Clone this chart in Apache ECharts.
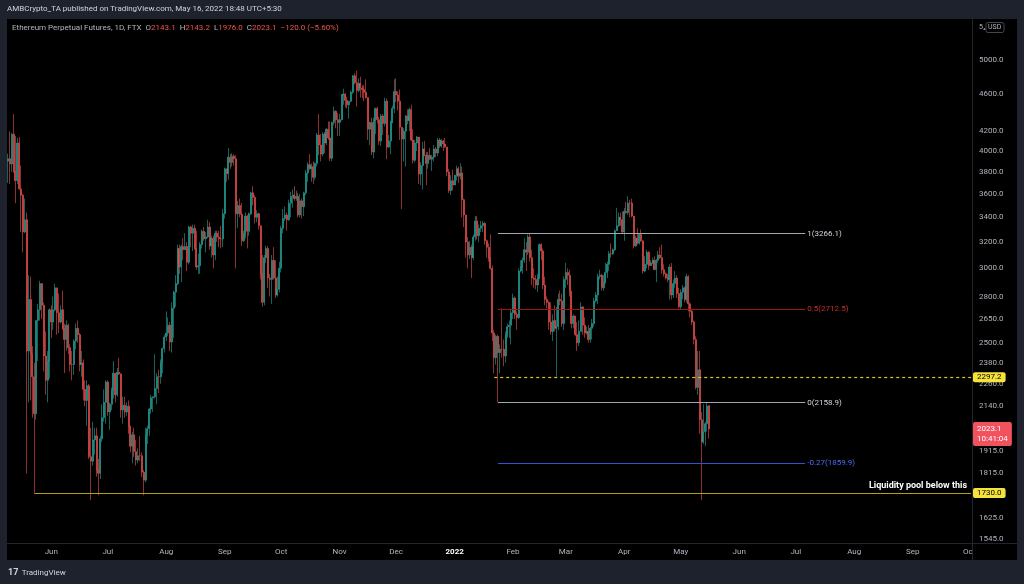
<!DOCTYPE html>
<html><head><meta charset="utf-8">
<script src="https://cdn.jsdelivr.net/npm/echarts@6/dist/echarts.min.js"></script>
<style>html,body{margin:0;padding:0;background:#1e222d;}#c{width:1024px;height:584px;}</style>
</head><body><div id="c"></div>
<script>
// ---- data: daily candles [open, high, low, close], first day 2021-05-09 ----
const firstDate = [2021, 4, 9];
const categoryCount = 512;
const may21 = [[3902,3975,3700,3926],[3926,4197,3690,3875],[3875,4180,3800,4168],[4168,4380,3790,3810],[3810,4150,3520,3720],[3720,4130,3690,4080],[4080,4140,3640,3645],[3645,3860,3280,3590],[3590,3600,3120,3280],[3280,3560,3270,3380],[3380,3440,1815,2450],[2450,2950,2160,2780],[2780,2940,2170,2430],[2430,2480,2080,2300],[2300,2380,1730,2100],[2100,2640,2070,2640],[2640,2750,2390,2710],[2710,2910,2640,2890],[2890,2890,2650,2740],[2740,2760,2330,2420],[2420,2570,2200,2280],[2280,2450,2160,2390],[2390,2720,2290,2710]];
const jun21 = [[2710,2740,2530,2630],[2630,2800,2580,2710],[2710,2890,2700,2860],[2860,2860,2550,2690],[2690,2820,2560,2630],[2630,2740,2620,2710],[2710,2840,2580,2590],[2590,2620,2320,2520],[2520,2640,2450,2610],[2610,2620,2430,2470],[2470,2490,2330,2370],[2370,2450,2280,2370],[2370,2520,2310,2510],[2510,2620,2460,2590],[2590,2640,2500,2550],[2550,2560,2330,2370],[2370,2450,2300,2380],[2380,2400,2170,2230],[2230,2280,2140,2170],[2170,2280,2040,2250],[2250,2260,1880,1890],[1890,2030,1700,1870],[1870,2060,1850,1970],[1970,2030,1900,1990],[1990,2030,1800,1830],[1830,1880,1720,1815],[1815,1990,1790,1975],[1975,2150,1960,2080],[2080,2230,2060,2160],[2160,2280,2050,2270]];
const jul21 = [[2270,2280,2090,2110],[2110,2160,2020,2150],[2150,2240,2120,2225],[2225,2390,2180,2320],[2320,2320,2160,2200],[2200,2350,2190,2325],[2325,2410,2310,2315],[2315,2320,2080,2120],[2120,2190,2050,2145],[2145,2190,2080,2110],[2110,2160,2090,2140],[2140,2170,2000,2035],[2035,2040,1910,1940],[1940,2010,1860,1995],[1995,2030,1890,1915],[1915,1970,1850,1875],[1875,1930,1860,1895],[1895,1990,1870,1895],[1895,1910,1800,1820],[1820,1830,1720,1785],[1785,2030,1775,1995],[1995,2040,1950,2025],[2025,2130,1990,2125],[2125,2200,2100,2185],[2185,2190,2110,2190],[2190,2430,2180,2235],[2235,2320,2150,2300],[2300,2340,2210,2300],[2300,2400,2260,2380],[2380,2470,2320,2465],[2465,2550,2440,2535]];
const aug21 = [[2535,2700,2510,2560],[2560,2660,2540,2610],[2610,2630,2450,2505],[2505,2760,2440,2720],[2720,2840,2530,2830],[2830,2950,2730,2890],[2890,3180,2880,3150],[3150,3180,2960,3010],[3010,3180,2900,3165],[3165,3230,3060,3140],[3140,3270,3140,3165],[3165,3200,2980,3045],[3045,3330,3030,3320],[3320,3330,3160,3270],[3270,3340,3130,3310],[3310,3340,3140,3150],[3150,3290,2990,3010],[3010,3110,2960,3020],[3020,3200,2960,3180],[3180,3300,3150,3285],[3285,3320,3210,3225],[3225,3280,3120,3240],[3240,3380,3230,3320],[3320,3360,3140,3170],[3170,3250,3080,3230],[3230,3250,3000,3100],[3100,3290,3060,3270],[3270,3290,3200,3240],[3240,3290,3160,3225],[3225,3330,3150,3225],[3225,3470,3160,3430]];
const sep21 = [[3430,3840,3390,3830],[3830,3830,3710,3785],[3785,4030,3730,3940],[3940,3970,3830,3890],[3890,3980,3850,3950],[3950,3970,3860,3925],[3925,3960,3000,3430],[3430,3540,3310,3500],[3500,3560,3400,3425],[3425,3520,3170,3210],[3210,3290,3200,3265],[3265,3440,3230,3410],[3410,3420,3150,3285],[3285,3440,3250,3430],[3430,3620,3420,3610],[3610,3670,3500,3570],[3570,3590,3350,3400],[3400,3460,3360,3430],[3430,3440,3300,3330],[3330,3330,2920,2960],[2960,3100,2730,2760],[2760,3100,2740,3080],[3080,3170,3040,3150],[3150,3170,2860,2930],[2930,2960,2800,2920],[2920,3100,2750,3060],[3060,3160,2920,2930],[2930,3060,2790,2810],[2810,2940,2800,2850],[2850,3050,2830,3000]];
const oct21 = [[3000,3330,2970,3310],[3310,3470,3270,3390],[3390,3490,3370,3420],[3420,3440,3290,3380],[3380,3550,3370,3520],[3520,3620,3400,3580],[3580,3640,3480,3590],[3590,3670,3540,3560],[3560,3630,3540,3580],[3580,3610,3400,3420],[3420,3600,3400,3540],[3540,3560,3390,3490],[3490,3620,3410,3610],[3610,3820,3590,3790],[3790,3890,3710,3870],[3870,3970,3820,3830],[3830,3880,3710,3850],[3850,3900,3690,3750],[3750,3890,3730,3880],[3880,4180,3850,4160],[4160,4380,3960,4060],[4060,4170,3900,3970],[3970,4190,3950,4170],[4170,4190,3980,4080],[4080,4230,4060,4220],[4220,4300,4110,4130],[4130,4300,3900,3930],[3930,4300,3900,4290],[4290,4460,4260,4410],[4410,4420,4230,4320],[4320,4390,4150,4290]];
const nov21 = [[4290,4380,4150,4320],[4320,4600,4310,4590],[4590,4660,4480,4600],[4600,4610,4450,4530],[4530,4570,4440,4480],[4480,4520,4330,4520],[4520,4640,4510,4620],[4620,4820,4600,4810],[4810,4840,4710,4730],[4730,4870,4460,4640],[4640,4780,4620,4720],[4720,4800,4560,4670],[4670,4700,4550,4650],[4650,4700,4520,4620],[4620,4770,4550,4560],[4560,4560,4110,4220],[4220,4300,4060,4290],[4290,4340,3960,3990],[3990,4340,3930,4310],[4310,4450,4170,4440],[4440,4460,4280,4320],[4320,4350,4060,4100],[4100,4380,4050,4360],[4360,4380,4160,4280],[4280,4560,4250,4520],[4520,4550,3920,4040],[4040,4160,4030,4100],[4100,4310,3970,4290],[4290,4470,4280,4440],[4440,4770,4390,4630]];
const dec21 = [[4630,4780,4510,4590],[4590,4630,4420,4520],[4520,4650,4110,4240],[4240,4240,3470,4120],[4120,4230,3900,4200],[4200,4370,3850,4360],[4360,4430,4270,4310],[4310,4450,4200,4430],[4430,4480,4100,4110],[4110,4220,3880,3910],[3910,4110,3890,4080],[4080,4150,4000,4140],[4140,4140,3690,3780],[3780,3890,3680,3860],[3860,4090,3640,4020],[4020,4100,3950,3960],[3960,3990,3680,3880],[3880,3990,3830,3960],[3960,4030,3910,3920],[3920,3960,3810,3940],[3940,4060,3900,4020],[4020,4040,3940,3980],[3980,4130,3950,4110],[4110,4130,4030,4050],[4050,4120,4030,4100],[4100,4110,4000,4070],[4070,4130,4030,4040],[4040,4040,3760,3800],[3800,3830,3610,3630],[3630,3770,3590,3720],[3720,3820,3630,3680]];
const jan22 = [[3680,3770,3680,3770],[3770,3860,3720,3830],[3830,3850,3700,3760],[3760,3880,3730,3790],[3790,3850,3400,3550],[3550,3560,3320,3420],[3420,3420,3080,3200],[3200,3240,3000,3100],[3100,3210,3070,3160],[3160,3180,2930,3080],[3080,3260,3060,3240],[3240,3410,3210,3370],[3370,3410,3220,3250],[3250,3340,3200,3310],[3310,3370,3280,3330],[3330,3370,3280,3350],[3350,3360,3180,3210],[3210,3220,3080,3160],[3160,3190,3050,3080],[3080,3260,2990,3000],[3000,3020,2510,2560],[2560,2580,2320,2410],[2410,2550,2370,2540],[2540,2550,2160,2440],[2440,2490,2320,2460],[2460,2720,2410,2460],[2460,2520,2360,2420],[2420,2570,2380,2550],[2550,2620,2530,2600],[2600,2640,2530,2610],[2610,2710,2490,2690]];
const feb22 = [[2690,2820,2650,2790],[2790,2800,2650,2680],[2680,2700,2580,2660],[2660,3000,2650,2980],[2980,3060,2970,3010],[3010,3080,2960,3060],[3060,3230,3040,3140],[3140,3200,2980,3120],[3120,3260,3100,3240],[3240,3270,3050,3080],[3080,3140,2880,2930],[2930,3000,2860,2920],[2920,2950,2850,2880],[2880,2960,2830,2930],[2930,3190,2920,3180],[3180,3190,3060,3130],[3130,3150,2850,2880],[2880,2940,2740,2780],[2780,2800,2720,2760],[2760,2770,2580,2630],[2630,2760,2550,2570],[2570,2680,2510,2640],[2640,2740,2570,2590],[2590,2730,2300,2600],[2600,2820,2580,2780],[2780,2840,2740,2770],[2770,2820,2600,2620],[2620,2940,2580,2920]];
const mar22 = [[2920,3040,2860,2970],[2970,3000,2880,2950],[2950,2990,2800,2830],[2830,2840,2590,2620],[2620,2680,2590,2670],[2670,2670,2540,2550],[2550,2630,2450,2500],[2500,2640,2480,2570],[2570,2760,2570,2730],[2730,2730,2550,2610],[2610,2660,2530,2560],[2560,2600,2550,2570],[2570,2610,2500,2520],[2520,2600,2500,2590],[2590,2650,2520,2620],[2620,2790,2600,2770],[2770,2830,2760,2810],[2810,2960,2750,2940],[2940,2990,2920,2950],[2950,2960,2840,2860],[2860,2950,2840,2900],[2900,3040,2890,2970],[2970,3050,2930,3030],[3030,3130,2980,3110],[3110,3190,3080,3110],[3110,3150,3100,3140],[3140,3300,3130,3290],[3290,3480,3290,3330],[3330,3440,3320,3400],[3400,3440,3330,3380],[3380,3450,3270,3280]];
const apr22 = [[3280,3480,3210,3450],[3450,3530,3430,3440],[3440,3580,3420,3520],[3520,3550,3400,3520],[3520,3560,3400,3410],[3410,3410,3150,3170],[3170,3250,3160,3230],[3230,3310,3180,3190],[3190,3270,3180,3260],[3260,3300,3200,3210],[3210,3210,2960,2980],[2980,3090,2970,3030],[3030,3140,3000,3120],[3120,3130,2990,3020],[3020,3060,3020,3040],[3040,3080,3030,3060],[3060,3090,2990,2990],[2990,3070,2900,3060],[3060,3130,3040,3100],[3100,3160,3070,3080],[3080,3180,2960,2990],[2990,3030,2940,2960],[2960,2970,2920,2930],[2930,2960,2900,2920],[2920,3030,2780,3010],[3010,3040,2780,2810],[2810,2920,2790,2890],[2890,2980,2860,2930],[2930,2950,2790,2820],[2820,2860,2720,2730]];
const may22 = [[2730,2850,2710,2830],[2830,2880,2780,2860],[2860,2870,2760,2780],[2780,2960,2760,2940],[2940,2950,2700,2750],[2750,2760,2660,2700],[2700,2710,2610,2630],[2630,2640,2490,2520],[2520,2540,2230,2240],[2240,2450,2200,2340],[2340,2450,2000,2070],[2070,2110,1700,1960],[1960,2150,1950,2010],[2010,2060,1940,2050],[2050,2160,2010,2140],[2143.1,2143.2,1976.0,2023.1]];

const priceTicks = [5000, 4600, 4200, 4000, 3800, 3600, 3400, 3200, 3000, 2800, 2650, 2500, 2380, 2260, 2140, 1915, 1815, 1625, 1545];
const fibLevels = [
  {text: '1(3266.1)', value: 3266.1, line: '#a3a6ad', label: '#d1d4dc'},
  {text: '0.5(2712.5)', value: 2712.5, line: '#a01414', label: '#c0302c'},
  {text: '0(2158.9)', value: 2158.9, line: '#a3a6ad', label: '#d1d4dc'},
  {text: '-0.27(1859.9)', value: 1859.9, line: '#2f52d0', label: '#4a6ff0'}
];
const fibStartIndex = 260, fibEndIndex = 423;
const resistance = {value: 2297.2, startIndex: 258};
const liquidity = {value: 1730.0, startIndex: 14, text: 'Liquidity pool below this'};
const lastPrice = {value: 2023.1, time: '10:41:04'};
const monthNames = ['Jan','Feb','Mar','Apr','May','Jun','Jul','Aug','Sep','Oct','Nov','Dec'];

// ---- build ----
const cats = [];
const t0 = Date.UTC(firstDate[0], firstDate[1], firstDate[2]);
for (let i = 0; i < categoryCount; i++) cats.push(new Date(t0 + i * 86400000).toISOString().slice(0, 10));
const ohlc = [].concat(may21, jun21, jul21, aug21, sep21, oct21, nov21, dec21, jan22, feb22, mar22, apr22, may22);
const candleData = ohlc.map(([o, h, l, c]) => [o, c, l, h]);
const lastIdx = categoryCount - 1;

const invisibleLine = () => ({color: 'rgba(0,0,0,0)', width: 0, type: 'solid'});
const marks = [];
priceTicks.forEach(v => marks.push({yAxis: v, lineStyle: invisibleLine(),
  label: {show: true, position: 'end', distance: 7, formatter: v.toFixed(1), color: '#b2b5be', fontSize: 8, fontFamily: 'Roboto'}}));
fibLevels.forEach(f => marks.push([
  {coord: [cats[fibStartIndex], f.value], lineStyle: {color: f.line, width: 1.2, type: 'solid'},
   label: {show: true, position: 'end', distance: 2, formatter: f.text, color: f.label, fontSize: 8, fontFamily: 'Roboto', padding: [0, 0, 9, 0]}},
  {coord: [cats[fibEndIndex], f.value]}]));
marks.push([
  {coord: [cats[resistance.startIndex], resistance.value], lineStyle: {color: '#e0c420', width: 1.2, type: [3, 3]}, label: {show: false}},
  {coord: [cats[lastIdx], resistance.value]}]);
marks.push([
  {coord: [cats[liquidity.startIndex], liquidity.value], lineStyle: {color: '#b39e1c', width: 1.2, type: 'solid'},
   label: {show: true, position: 'insideEndTop', distance: [4, 3], formatter: liquidity.text, color: '#ffffff', fontWeight: 'bold', fontSize: 9, fontFamily: 'Roboto'}},
  {coord: [cats[lastIdx], liquidity.value]}]);
[resistance, liquidity].forEach(r => marks.push({yAxis: r.value, lineStyle: invisibleLine(),
  label: {show: true, position: 'end', distance: 1, formatter: r.value.toFixed(1), color: '#000', backgroundColor: '#f5e23a', padding: [1, 4, 1, 4], fontSize: 8, fontFamily: 'Roboto', borderRadius: 2}}));
marks.push({yAxis: lastPrice.value, lineStyle: invisibleLine(),
  label: {show: true, position: 'end', distance: 1, formatter: lastPrice.value.toFixed(1) + '\n' + lastPrice.time, color: '#fff', backgroundColor: '#f2525e',
    padding: [2, 4, 2, 4], lineHeight: 10, fontSize: 8, fontFamily: 'Roboto', borderRadius: 2, offset: [0, 5]}});

const up = '#26a69a', down = '#ef5350';
const chart = echarts.init(document.getElementById('c'));
chart.setOption({
  backgroundColor: '#1e222d',
  animation: false,
  grid: {left: 7, right: 52, top: 19, bottom: 41},
  xAxis: {
    type: 'category', data: cats, boundaryGap: true,
    axisLine: {show: false}, axisTick: {show: false}, splitLine: {show: false},
    axisLabel: {
      interval: (i, v) => v.slice(8) === '01', margin: 5, color: '#b2b5be', fontSize: 8, fontFamily: 'Roboto',
      formatter: v => { const m = +v.slice(5, 7); return m === 1 ? '{y|' + v.slice(0, 4) + '}' : monthNames[m - 1]; },
      rich: {y: {color: '#ffffff', fontWeight: 'bold', fontSize: 8, fontFamily: 'Roboto'}}
    }
  },
  yAxis: {type: 'log', min: 1530, max: 5529, position: 'right', axisLine: {show: false}, axisTick: {show: false}, axisLabel: {show: false}, splitLine: {show: false}},
  graphic: [
    {type: 'rect', z: -10, shape: {x: 7, y: 19, width: 1010, height: 541}, style: {fill: '#000000'}},
    {type: 'rect', z: 100, shape: {x: 973, y: 544, width: 44, height: 16}, style: {fill: '#000000'}},
    {type: 'line', z: 101, shape: {x1: 972.5, y1: 19, x2: 972.5, y2: 560}, style: {stroke: '#22252e', lineWidth: 1}},
    {type: 'line', z: 101, shape: {x1: 7, y1: 543.5, x2: 1017, y2: 543.5}, style: {stroke: '#22252e', lineWidth: 1}},
    {type: 'text', z: 101, x: 7, y: 5, style: {text: 'AMBCrypto_TA published on TradingView.com, May 16, 2022 18:48 UTC+5:30', fill: '#d1d4dc', font: '8px Roboto'}},
    {type: 'text', z: 101, x: 12, y: 24, style: {
      text: '{g|Ethereum Perpetual Futures, 1D, FTX  O}{r|2143.1}{g|  H}{r|2143.2}{g|  L}{r|1976.0}{g|  C}{r|2023.1}{r|  \u2212120.0 (\u22125.60%)}',
      rich: {g: {fill: '#b2b5be', font: '8px Roboto'}, r: {fill: '#ef5350', font: '8px Roboto'}}}},
    {type: 'text', z: 101, x: 979, y: 24, style: {text: '5\u2084', fill: '#b2b5be', font: '7px Roboto'}},
    {type: 'rect', z: 101, shape: {x: 986, y: 22.5, width: 18, height: 10, r: 2}, style: {fill: 'none', stroke: '#434651', lineWidth: 1}},
    {type: 'text', z: 102, x: 988, y: 24, style: {text: 'USD', fill: '#b2b5be', font: '7px Roboto'}},
    {type: 'text', z: 101, x: 8, y: 567, style: {text: '{l|17} {t|TradingView}', rich: {l: {fill: '#d1d4dc', font: 'bold 9px Roboto'}, t: {fill: '#d1d4dc', font: '8px Roboto'}}}}
  ],
  series: [{
    type: 'candlestick', data: candleData, barWidth: 1.5, clip: false, large: false,
    itemStyle: {color: up, color0: down, borderColor: up, borderColor0: down, borderColorDoji: down, borderWidth: 0.6},
    emphasis: {disabled: true},
    markLine: {silent: true, symbol: ['none', 'none'], animation: false, data: marks}
  }]
});
</script></body></html>
